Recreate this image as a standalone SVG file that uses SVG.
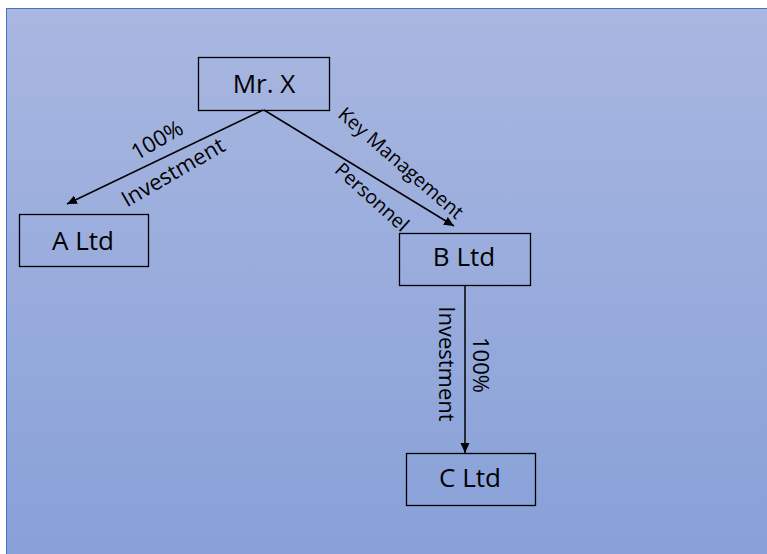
<svg xmlns="http://www.w3.org/2000/svg" width="767" height="554" viewBox="0 0 767 554">
  <defs>
    <linearGradient id="bg" x1="0" y1="0" x2="0" y2="1">
      <stop offset="0" stop-color="#A9B7E0"/>
      <stop offset="1" stop-color="#87A0D8"/>
    </linearGradient>
    <marker id="arr" viewBox="0 0 10 10" refX="10" refY="5" markerWidth="10" markerHeight="10" markerUnits="userSpaceOnUse" orient="auto">
      <path d="M0,0.5 L10,5 L0,9.5 Z" fill="#000"/>
    </marker>
  </defs>
  <style>
    .box { fill: none; stroke: #000; stroke-width: 1.3; }
    .lbl { font-family: "Open Sans", "Liberation Sans", sans-serif; font-size: 26px; fill: #000; text-anchor: middle; }
    .el { font-family: "Open Sans", "Liberation Sans", sans-serif; font-size: 22px; fill: #000; text-anchor: middle; }
    .sm { font-size: 19.5px; }
    .con { stroke: #000; stroke-width: 1.5; fill: none; }
  </style>
  <rect width="767" height="554" fill="#fff"/>
  <rect x="6.5" y="8.5" width="770" height="560" fill="url(#bg)" stroke="#4472C4" stroke-width="1"/>

  <g id="connectors">
    <line class="con" x1="263" y1="110" x2="67" y2="204" marker-end="url(#arr)"/>
    <line class="con" x1="264" y1="110" x2="454" y2="226" marker-end="url(#arr)"/>
    <line class="con" x1="465" y1="286" x2="465" y2="453" marker-end="url(#arr)"/>
    <text class="el" transform="translate(157,140) rotate(-30)" dy="0.35em">100%</text>
    <text class="el" transform="translate(173,172) rotate(-30)" dy="0.35em">Investment</text>
    <text class="el sm" transform="translate(401,163) rotate(41)" dy="0.35em">Key Management</text>
    <text class="el sm" transform="translate(372,197) rotate(42)" dy="0.35em">Personnel</text>
    <text class="el" transform="translate(447,364) rotate(90)" dy="0.35em">Investment</text>
    <text class="el" transform="translate(481,365) rotate(90)" dy="0.35em">100%</text>
  </g>

  <g id="mrx">
    <rect class="box" x="198.5" y="57.5" width="131" height="53"/>
    <text class="lbl" x="264" y="93">Mr. X</text>
  </g>
  <g id="altd">
    <rect class="box" x="19.5" y="214.5" width="129" height="52"/>
    <text class="lbl" x="83" y="250">A Ltd</text>
  </g>
  <g id="bltd">
    <rect class="box" x="399.5" y="233.5" width="131" height="52"/>
    <text class="lbl" x="464" y="266">B Ltd</text>
  </g>
  <g id="cltd">
    <rect class="box" x="406.5" y="453.5" width="129" height="52"/>
    <text class="lbl" x="470" y="487">C Ltd</text>
  </g>
</svg>
